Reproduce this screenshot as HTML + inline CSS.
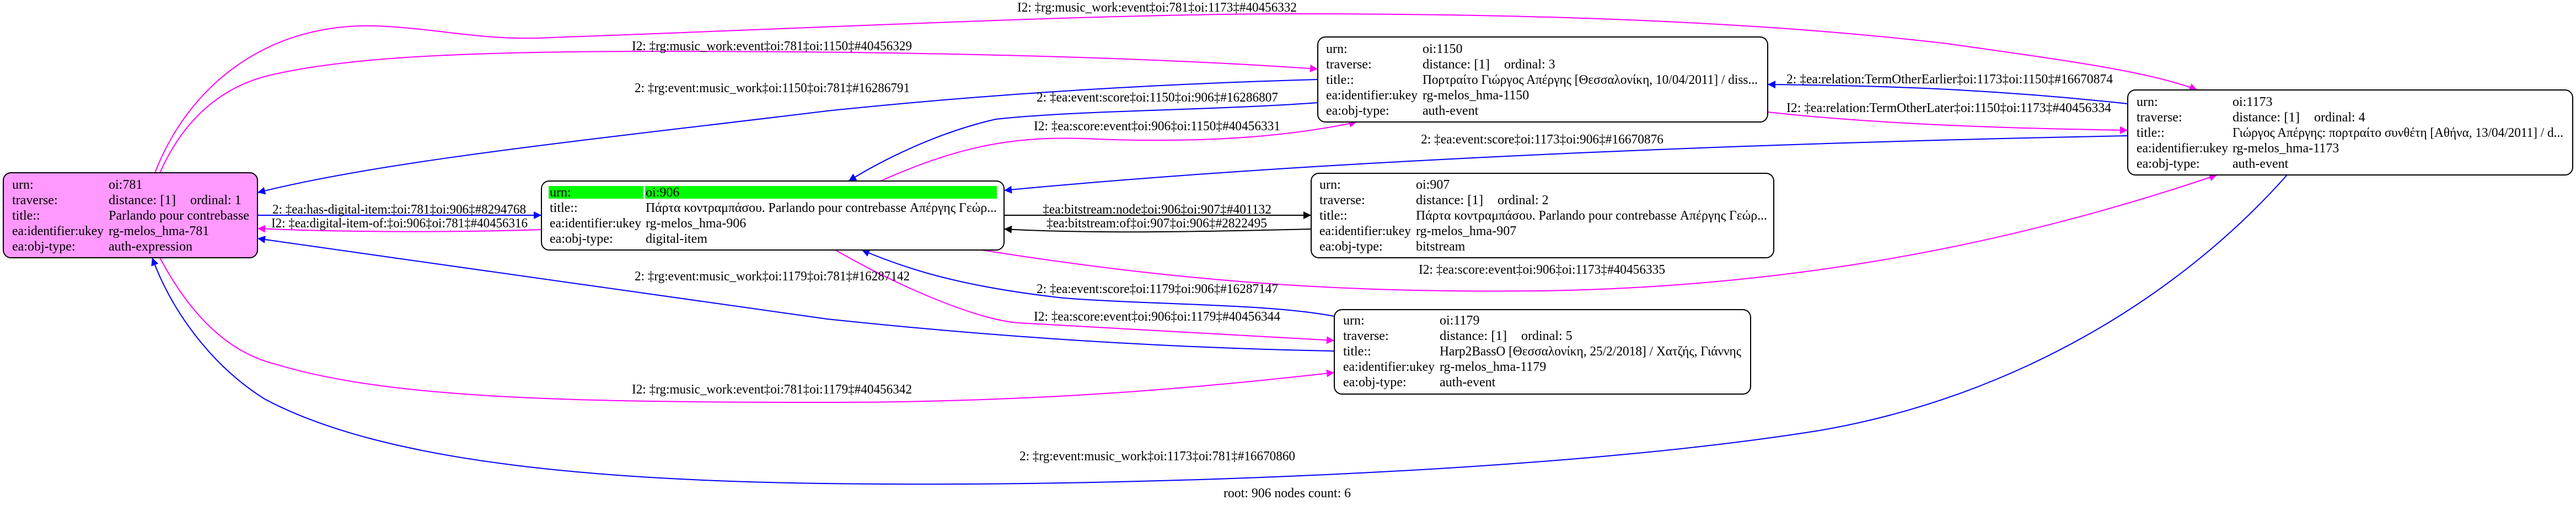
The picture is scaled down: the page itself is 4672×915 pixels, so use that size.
<!DOCTYPE html>
<html><head><meta charset="utf-8"><style>
html,body{margin:0;padding:0;background:#fff;}
svg{display:block;}
text{font-family:"Liberation Serif","Noto Serif CJK SC",serif;font-size:24px;fill:#000;}
</style></head><body>
<svg width="4672" height="915" viewBox="0 0 4672 915" xmlns="http://www.w3.org/2000/svg">
<defs>
<marker id="mb" viewBox="0 0 10 10" refX="10" refY="5" markerWidth="14" markerHeight="14" markerUnits="userSpaceOnUse" orient="auto"><path d="M0,0 L10,5 L0,10 z" fill="#0000ff"/></marker>
<marker id="mm" viewBox="0 0 10 10" refX="10" refY="5" markerWidth="14" markerHeight="14" markerUnits="userSpaceOnUse" orient="auto"><path d="M0,0 L10,5 L0,10 z" fill="#ff00ff"/></marker>
<marker id="mk" viewBox="0 0 10 10" refX="10" refY="5" markerWidth="14" markerHeight="14" markerUnits="userSpaceOnUse" orient="auto"><path d="M0,0 L10,5 L0,10 z" fill="#000"/></marker>
</defs>

<g fill="none" stroke-width="2">
<!-- magenta -->
<path stroke="#ff00ff" marker-end="url(#mm)" d="M281,313 C340,160 480,40 684,47 C800,52 880,75 1000,68 C1500,50 2000,25 2347,25 C2800,25 3200,40 3531,79 C3750,110 3900,130 3985,163"/>
<path stroke="#ff00ff" marker-end="url(#mm)" d="M290,313 C340,200 420,150 500,134 C650,100 900,93 1200,93 C1700,93 2100,105 2390,125"/>
<path stroke="#ff00ff" marker-end="url(#mm)" d="M1597,328 C1750,260 1850,245 1990,252 C2200,260 2350,245 2461,221"/>
<path stroke="#ff00ff" marker-end="url(#mm)" d="M3206,203 C3400,225 3650,233 3859,236"/>
<path stroke="#ff00ff" marker-end="url(#mm)" d="M1781,453 C2200,520 2500,530 2800,527 C3200,520 3600,460 4021,317"/>
<path stroke="#ff00ff" marker-end="url(#mm)" d="M1515,453 C1650,530 1780,580 1847,585 L2420,617"/>
<path stroke="#ff00ff" marker-end="url(#mm)" d="M290,467 C350,580 420,640 500,660 C700,720 1000,729 1500,729 C1900,729 2200,700 2420,675"/>
<path stroke="#ff00ff" marker-end="url(#mm)" d="M982,416 C800,422 600,420 467,414"/>
<!-- blue -->
<path stroke="#0000ff" marker-end="url(#mb)" d="M2390,144 C2000,155 1700,180 1500,201 C1100,250 700,290 467,349"/>
<path stroke="#0000ff" marker-end="url(#mb)" d="M2390,186 C2200,200 1950,200 1806,216 C1700,240 1600,290 1539,328"/>
<path stroke="#0000ff" marker-end="url(#mb)" d="M3859,246 C3400,255 2500,280 1821,345"/>
<path stroke="#0000ff" marker-end="url(#mb)" d="M2420,573 C2300,550 2100,553 1929,540 C1750,520 1650,490 1563,453"/>
<path stroke="#0000ff" marker-end="url(#mb)" d="M2420,636 C2100,630 1800,610 1500,578 C1100,520 800,480 467,432"/>
<path stroke="#0000ff" marker-end="url(#mb)" d="M4148,317 C3950,540 3650,720 3300,780 C2800,860 2000,880 1600,877 C1100,875 700,840 480,723 C380,660 310,560 276,467"/>
<path stroke="#0000ff" marker-end="url(#mb)" d="M467,390 L982,390"/>
<path stroke="#0000ff" marker-end="url(#mb)" d="M3859,188 C3600,160 3400,155 3206,153"/>
<!-- black -->
<path stroke="#000" marker-end="url(#mk)" d="M1821,390 L2378,390"/>
<path stroke="#000" marker-end="url(#mk)" d="M2378,415 C2100,422 1950,422 1821,415"/>
</g>

<!-- edge labels -->
<g lengthAdjust="spacingAndGlyphs">
<text x="1845" y="21" textLength="507" lengthAdjust="spacingAndGlyphs">I2: ‡rg:music_work:event‡oi:781‡oi:1173‡#40456332</text>
<text x="1146" y="91" textLength="508" lengthAdjust="spacingAndGlyphs">I2: ‡rg:music_work:event‡oi:781‡oi:1150‡#40456329</text>
<text x="1151" y="167" textLength="499" lengthAdjust="spacingAndGlyphs">2: ‡rg:event:music_work‡oi:1150‡oi:781‡#16286791</text>
<text x="1880" y="184" textLength="438" lengthAdjust="spacingAndGlyphs">2: ‡ea:event:score‡oi:1150‡oi:906‡#16286807</text>
<text x="1875" y="236" textLength="447" lengthAdjust="spacingAndGlyphs">I2: ‡ea:score:event‡oi:906‡oi:1150‡#40456331</text>
<text x="2577" y="260" textLength="440" lengthAdjust="spacingAndGlyphs">2: ‡ea:event:score‡oi:1173‡oi:906‡#16670876</text>
<text x="3240" y="151" textLength="592" lengthAdjust="spacingAndGlyphs">2: ‡ea:relation:TermOtherEarlier‡oi:1173‡oi:1150‡#16670874</text>
<text x="3240" y="203" textLength="589" lengthAdjust="spacingAndGlyphs">I2: ‡ea:relation:TermOtherLater‡oi:1150‡oi:1173‡#40456334</text>
<text x="494" y="387" textLength="460" lengthAdjust="spacingAndGlyphs">2: ‡ea:has-digital-item:‡oi:781‡oi:906‡#8294768</text>
<text x="492" y="412" textLength="465" lengthAdjust="spacingAndGlyphs">I2: ‡ea:digital-item-of:‡oi:906‡oi:781‡#40456316</text>
<text x="1891" y="387" textLength="415" lengthAdjust="spacingAndGlyphs">‡ea:bitstream:node‡oi:906‡oi:907‡#401132</text>
<text x="1898" y="412" textLength="400" lengthAdjust="spacingAndGlyphs">‡ea:bitstream:of‡oi:907‡oi:906‡#2822495</text>
<text x="2573" y="496" textLength="447" lengthAdjust="spacingAndGlyphs">I2: ‡ea:score:event‡oi:906‡oi:1173‡#40456335</text>
<text x="1151" y="508" textLength="499" lengthAdjust="spacingAndGlyphs">2: ‡rg:event:music_work‡oi:1179‡oi:781‡#16287142</text>
<text x="1880" y="531" textLength="438" lengthAdjust="spacingAndGlyphs">2: ‡ea:event:score‡oi:1179‡oi:906‡#16287147</text>
<text x="1875" y="581" textLength="447" lengthAdjust="spacingAndGlyphs">I2: ‡ea:score:event‡oi:906‡oi:1179‡#40456344</text>
<text x="1146" y="713" textLength="508" lengthAdjust="spacingAndGlyphs">I2: ‡rg:music_work:event‡oi:781‡oi:1179‡#40456342</text>
<text x="1849" y="834" textLength="500" lengthAdjust="spacingAndGlyphs">2: ‡rg:event:music_work‡oi:1173‡oi:781‡#16670860</text>
<text x="2219" y="901" textLength="231" lengthAdjust="spacingAndGlyphs">root: 906 nodes count: 6</text>
</g>

<!-- node 781 -->
<rect x="6" y="313" width="461" height="154" rx="14" fill="#ff99ff" stroke="#000" stroke-width="2"/>
<text x="22" y="342">urn:</text><text x="197" y="342">oi:781</text>
<text x="22" y="370">traverse:</text><text x="197" y="370" textLength="122" lengthAdjust="spacingAndGlyphs">distance: [1]</text><text x="345" y="370">ordinal: 1</text>
<text x="22" y="398">title::</text><text x="197" y="398" textLength="255" lengthAdjust="spacingAndGlyphs">Parlando pour contrebasse</text>
<text x="22" y="426" textLength="166" lengthAdjust="spacingAndGlyphs">ea:identifier:ukey</text><text x="197" y="426">rg-melos_hma-781</text>
<text x="22" y="454">ea:obj-type:</text><text x="197" y="454">auth-expression</text>

<!-- node 906 -->
<rect x="982" y="328" width="839" height="125" rx="14" fill="#fff" stroke="#000" stroke-width="2"/>
<rect x="995" y="337" width="172" height="23" fill="#00ff00"/>
<rect x="1170" y="337" width="638" height="23" fill="#00ff00"/>
<text x="997" y="356">urn:</text><text x="1171" y="356">oi:906</text>
<text x="997" y="384">title::</text><text x="1171" y="384" textLength="637" lengthAdjust="spacingAndGlyphs">Πάρτα κοντραμπάσου. Parlando pour contrebasse Απέργης Γεώρ...</text>
<text x="997" y="412" textLength="166" lengthAdjust="spacingAndGlyphs">ea:identifier:ukey</text><text x="1171" y="412">rg-melos_hma-906</text>
<text x="997" y="440">ea:obj-type:</text><text x="1171" y="440">digital-item</text>

<!-- node 1150 -->
<rect x="2390" y="67" width="816" height="154" rx="14" fill="#fff" stroke="#000" stroke-width="2"/>
<text x="2405" y="96">urn:</text><text x="2580" y="96">oi:1150</text>
<text x="2405" y="124">traverse:</text><text x="2580" y="124" textLength="122" lengthAdjust="spacingAndGlyphs">distance: [1]</text><text x="2728" y="124">ordinal: 3</text>
<text x="2405" y="152">title::</text><text x="2580" y="152" textLength="608" lengthAdjust="spacingAndGlyphs">Πορτραίτο Γιώργος Απέργης [Θεσσαλονίκη, 10/04/2011] / diss...</text>
<text x="2405" y="180" textLength="166" lengthAdjust="spacingAndGlyphs">ea:identifier:ukey</text><text x="2580" y="180">rg-melos_hma-1150</text>
<text x="2405" y="208">ea:obj-type:</text><text x="2580" y="208">auth-event</text>

<!-- node 907 -->
<rect x="2378" y="314" width="839" height="153" rx="14" fill="#fff" stroke="#000" stroke-width="2"/>
<text x="2393" y="342">urn:</text><text x="2568" y="342">oi:907</text>
<text x="2393" y="370">traverse:</text><text x="2568" y="370" textLength="122" lengthAdjust="spacingAndGlyphs">distance: [1]</text><text x="2716" y="370">ordinal: 2</text>
<text x="2393" y="398">title::</text><text x="2568" y="398" textLength="637" lengthAdjust="spacingAndGlyphs">Πάρτα κοντραμπάσου. Parlando pour contrebasse Απέργης Γεώρ...</text>
<text x="2393" y="426" textLength="166" lengthAdjust="spacingAndGlyphs">ea:identifier:ukey</text><text x="2568" y="426">rg-melos_hma-907</text>
<text x="2393" y="454">ea:obj-type:</text><text x="2568" y="454">bitstream</text>

<!-- node 1179 -->
<rect x="2420" y="561" width="755" height="153" rx="14" fill="#fff" stroke="#000" stroke-width="2"/>
<text x="2436" y="588">urn:</text><text x="2611" y="588">oi:1179</text>
<text x="2436" y="616">traverse:</text><text x="2611" y="616" textLength="122" lengthAdjust="spacingAndGlyphs">distance: [1]</text><text x="2759" y="616">ordinal: 5</text>
<text x="2436" y="644">title::</text><text x="2611" y="644" textLength="547" lengthAdjust="spacingAndGlyphs">Harp2BassO [Θεσσαλονίκη, 25/2/2018] / Χατζής, Γιάννης</text>
<text x="2436" y="672" textLength="166" lengthAdjust="spacingAndGlyphs">ea:identifier:ukey</text><text x="2611" y="672">rg-melos_hma-1179</text>
<text x="2436" y="700">ea:obj-type:</text><text x="2611" y="700">auth-event</text>

<!-- node 1173 -->
<rect x="3859" y="163" width="807" height="154" rx="14" fill="#fff" stroke="#000" stroke-width="2"/>
<text x="3875" y="192">urn:</text><text x="4049" y="192">oi:1173</text>
<text x="3875" y="220">traverse:</text><text x="4049" y="220" textLength="122" lengthAdjust="spacingAndGlyphs">distance: [1]</text><text x="4197" y="220">ordinal: 4</text>
<text x="3875" y="248">title::</text><text x="4049" y="248" textLength="600" lengthAdjust="spacingAndGlyphs">Γιώργος Απέργης: πορτραίτο συνθέτη [Αθήνα, 13/04/2011] / d...</text>
<text x="3875" y="276" textLength="166" lengthAdjust="spacingAndGlyphs">ea:identifier:ukey</text><text x="4049" y="276">rg-melos_hma-1173</text>
<text x="3875" y="304">ea:obj-type:</text><text x="4049" y="304">auth-event</text>
</svg>
</body></html>
